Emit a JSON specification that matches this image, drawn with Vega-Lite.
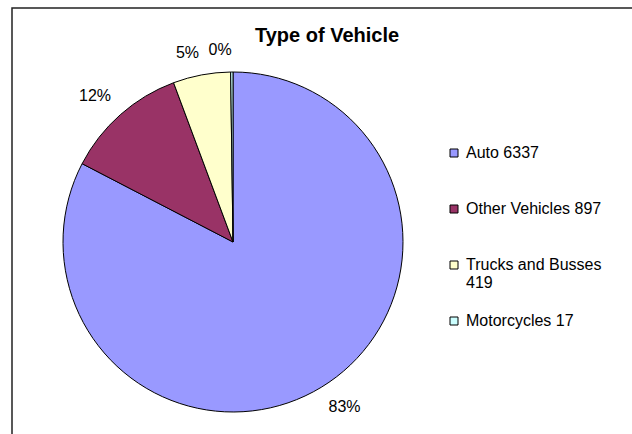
{
  "$schema": "https://vega.github.io/schema/vega-lite/v6.json",
  "autosize": "none",
  "width": 640,
  "height": 440,
  "padding": {"left": 12, "top": 8, "right": 0, "bottom": 0},
  "background": "white",
  "view": {"stroke": "#222222", "strokeWidth": 1.5},
  "config": {
    "view": {"stroke": "#222222", "strokeWidth": 1.5},
    "font": "Liberation Sans"
  },
  "title": {
    "text": "Type of Vehicle",
    "anchor": "start",
    "dx": 243,
    "dy": 38,
    "offset": 0,
    "fontSize": 20,
    "fontWeight": "bold",
    "font": "Liberation Sans",
    "color": "#000000"
  },
  "data": {
    "values": [
      {"vehicle": "Auto 6337", "count": 6337},
      {"vehicle": "Other Vehicles 897", "count": 897},
      {"vehicle": "Trucks and Busses 419", "count": 419},
      {"vehicle": "Motorcycles 17", "count": 17}
    ]
  },
  "transform": [
    {"joinaggregate": [{"op": "sum", "field": "count", "as": "total"}]},
    {"calculate": "datum.count / datum.total", "as": "share"}
  ],
  "encoding": {
    "theta": {"field": "count", "type": "quantitative", "stack": true},
    "order": {"field": "count", "type": "quantitative", "sort": "descending"}
  },
  "layer": [
    {
      "mark": {"type": "arc", "x": 221, "y": 234, "outerRadius": 170, "stroke": "#000000", "strokeWidth": 1},
      "encoding": {
        "color": {
          "field": "vehicle",
          "type": "nominal",
          "scale": {
            "domain": ["Auto 6337", "Other Vehicles 897", "Trucks and Busses 419", "Motorcycles 17"],
            "range": ["#9999FF", "#993366", "#FFFFCC", "#CCFFFF"]
          },
          "legend": {
            "orient": "none",
            "legendX": 434,
            "legendY": 137,
            "title": null,
            "symbolType": "square",
            "symbolSize": 64,
            "symbolStrokeColor": "#000000",
            "symbolStrokeWidth": 1,
            "symbolOpacity": 1,
            "labelFont": "Liberation Sans",
            "labelFontSize": 16,
            "labelColor": "#000000",
            "labelOffset": 4,
            "labelLimit": 300,
            "rowPadding": 22,
            "gridAlign": "all",
            "labelExpr": "datum.label == 'Trucks and Busses 419' ? ['Trucks and Busses', '419'] : datum.label"
          }
        }
      }
    },
    {
      "mark": {
        "type": "text",
        "x": 221,
        "y": 234,
        "radius": 184,
        "fontSize": 16,
        "font": "Liberation Sans",
        "align": {"expr": "(datum.count_start + datum.count_end) / 2 / datum.total < 0.5 ? 'left' : 'right'"},
        "baseline": {"expr": "abs((datum.count_start + datum.count_end) / 2 / datum.total - 0.5) < 0.25 ? 'top' : 'bottom'"}
      },
      "encoding": {
        "text": {"field": "share", "type": "quantitative", "format": ".0%"},
        "color": {"value": "#000000"}
      }
    }
  ]
}
